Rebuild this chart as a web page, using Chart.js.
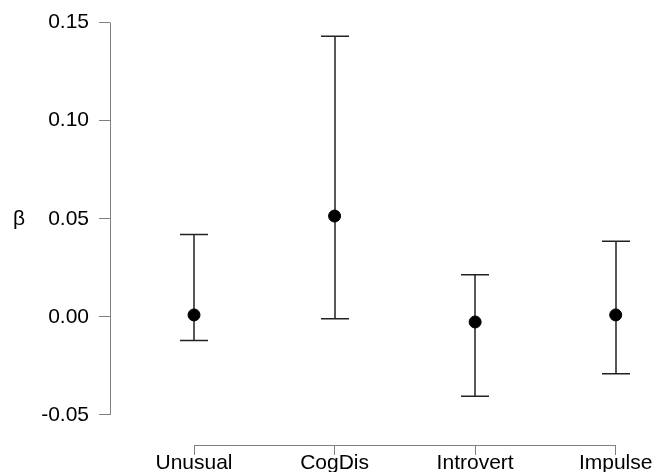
<!DOCTYPE html>
<html>
<head>
<meta charset="utf-8">
<script src="https://cdn.jsdelivr.net/npm/chart.js@4"></script>
<style>
  body { margin: 0; background: #fff; }
  #wrap { width: 658px; height: 472px; }
</style>
</head>
<body>
<div id="wrap"><canvas id="betaChart"></canvas></div>
<script>
const categories = ['Unusual', 'CogDis', 'Introvert', 'Impulse'];
const estimates = [0.001, 0.0514, -0.0026, 0.001];
const lowerCI = [-0.012, -0.001, -0.0405, -0.029];
const upperCI = [0.042, 0.143, 0.0215, 0.0385];
const yTicks = [-0.05, 0, 0.05, 0.10, 0.15];

const fontFamily = '"Liberation Sans", Arial, Helvetica, sans-serif';
const axisColor = '#808080';

// error bars + R style axis lines, drawn from the chart's scales
const errorBars = {
  id: 'errorBars',
  beforeDatasetsDraw(chart) {
    const ctx = chart.ctx;
    const xs = chart.scales.x;
    const ys = chart.scales.y;
    ctx.save();
    ctx.strokeStyle = '#222';
    ctx.lineWidth = 1.5;
    categories.forEach((c, i) => {
      const px = Math.round(xs.getPixelForValue(i + 1));
      const top = ys.getPixelForValue(upperCI[i]);
      const bot = ys.getPixelForValue(lowerCI[i]);
      ctx.beginPath();
      ctx.moveTo(px, top);
      ctx.lineTo(px, bot);
      ctx.moveTo(px - 14, top);
      ctx.lineTo(px + 14, top);
      ctx.moveTo(px - 14, bot);
      ctx.lineTo(px + 14, bot);
      ctx.stroke();
    });
    ctx.restore();
  },
  afterDraw(chart) {
    const ctx = chart.ctx;
    const xs = chart.scales.x;
    const ys = chart.scales.y;
    const area = chart.chartArea;
    ctx.save();
    ctx.strokeStyle = axisColor;
    ctx.lineWidth = 1;
    const lx = Math.round(area.left) + 0.5;
    const by = Math.round(area.bottom) + 0.5;
    ctx.beginPath();
    ctx.moveTo(lx, ys.getPixelForValue(yTicks[yTicks.length - 1]));
    ctx.lineTo(lx, ys.getPixelForValue(yTicks[0]));
    ctx.moveTo(xs.getPixelForValue(1), by);
    ctx.lineTo(xs.getPixelForValue(categories.length), by);
    ctx.stroke();
    ctx.fillStyle = '#000';
    ctx.font = '21px ' + fontFamily;
    ctx.textAlign = 'center';
    ctx.textBaseline = 'middle';
    ctx.fillText('β', 19, ys.getPixelForValue(0.05));
    ctx.restore();
  }
};

new Chart(document.getElementById('betaChart'), {
  type: 'scatter',
  data: {
    datasets: [{
      data: estimates.map((v, i) => ({ x: i + 1, y: v })),
      backgroundColor: '#000',
      borderColor: '#000',
      pointRadius: 6,
      pointHoverRadius: 6
    }]
  },
  options: {
    responsive: true,
    maintainAspectRatio: false,
    animation: false,
    layout: { padding: { top: 22, right: 8, left: 0, bottom: 0 } },
    plugins: { legend: { display: false }, tooltip: { enabled: false } },
    scales: {
      x: {
        type: 'linear',
        min: 0.4024,
        max: 4.244,
        afterBuildTicks: s => { s.ticks = categories.map((c, i) => ({ value: i + 1 })); },
        afterFit: s => { s.height = 27; },
        ticks: {
          callback: v => categories[Math.round(v) - 1],
          font: { size: 21, family: fontFamily },
          color: '#000',
          padding: -4,
          maxRotation: 0,
          autoSkip: false
        },
        grid: { drawOnChartArea: false, drawTicks: true, tickLength: 10, color: axisColor },
        border: { display: false }
      },
      y: {
        min: -0.0653,
        max: 0.15,
        afterBuildTicks: s => { s.ticks = yTicks.map(v => ({ value: v })); },
        afterFit: s => { s.width = 110; },
        ticks: {
          callback: v => v.toFixed(2),
          font: { size: 21, family: fontFamily },
          color: '#000',
          padding: 10
        },
        grid: { drawOnChartArea: false, drawTicks: true, tickLength: 11, color: axisColor },
        border: { display: false }
      }
    }
  },
  plugins: [errorBars]
});
</script>
</body>
</html>
